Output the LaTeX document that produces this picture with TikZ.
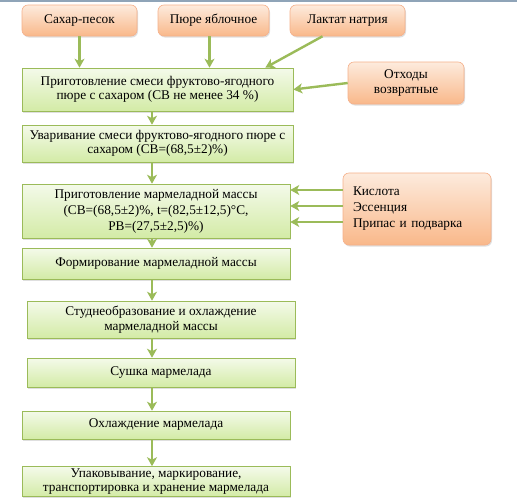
\documentclass[tikz,border=0pt]{standalone}
\usepackage{fontspec}
\setmainfont{Liberation Serif}
\usepackage{xcolor}
\usepackage{tikz}
\usetikzlibrary{arrows.meta,positioning,shadows,calc}
\definecolor{pgreen}{HTML}{9BBB59}
\definecolor{pgrtop}{HTML}{F4FAEA}
\definecolor{pgrbot}{HTML}{D3EBA6}
\definecolor{porange}{HTML}{F5B08A}
\definecolor{portop}{HTML}{FDEBDD}
\definecolor{porbot}{HTML}{F9B88A}
\definecolor{pframe}{HTML}{8FA4B8}

\begin{document}
\begin{tikzpicture}[
    x=1pt,y=-1pt,
    font=\fontsize{13.3}{14.5}\selectfont,
    gbx/.style={draw=pgreen,top color=pgrtop,bottom color=pgrbot,
                align=center,inner sep=2pt,line width=0.6pt,
                drop shadow={opacity=0.25,shadow xshift=1pt,shadow yshift=-1.5pt}},
    obx/.style={draw=porange,top color=portop,bottom color=porbot,
                rounded corners=6pt,align=center,line width=0.6pt,
                drop shadow={opacity=0.25,shadow xshift=1pt,shadow yshift=-1.5pt}},
    arr/.style={-{Stealth[length=9pt,width=10pt,inset=2.5pt]},line width=2.4pt,pgreen}
  ]
    \useasboundingbox (0,0) rectangle (517,501);
    \fill[white] (0,0) rectangle (517,501);
    \draw[pframe,line width=1.6pt] (0,0.8) -- (517,0.8);

    % Raw materials
    \node[obx,minimum width=115,minimum height=31] (sug)  at (79.5,20.5)  {Сахар-песок};
    \node[obx,minimum width=111,minimum height=31] (pur)  at (213.5,20.5) {Пюре яблочное};
    \node[obx,minimum width=115,minimum height=31] (lac)  at (347.5,20.5) {Лактат натрия};
    \node[obx,minimum width=116,minimum height=42] (wst)  at (406,83)     {Отходы\\возвратные};
    \node[obx,minimum height=72,text width=128,inner xsep=10,align=left,
          font=\fontsize{13.3}{16}\selectfont]
      (add) at (417,209) {Кислота\\Эссенция\\Припас и подварка};

    % Process steps
    \node[gbx,minimum width=271,minimum height=43] (mix)  at (157.5,89.5)
      {Приготовление смеси фруктово-ягодного\\пюре с сахаром (СВ не менее 34 \%)};
    \node[gbx,minimum width=271,minimum height=37] (boil) at (157.5,143.5)
      {Уваривание смеси фруктово-ягодного пюре с\\сахаром (СВ=(68,5±2)\%)};
    \node[gbx,minimum width=268,minimum height=54,font=\fontsize{13.3}{16}\selectfont]
      (mass) at (156,211)
      {Приготовление мармеладной массы\\(СВ=(68,5±2)\%, t=(82,5±12,5)°С,\\РВ=(27,5±2,5)\%)};
    \node[gbx,minimum width=268,minimum height=31] (form) at (156,263.5)
      {Формирование мармеладной массы};
    \node[gbx,minimum width=268,minimum height=37] (gel)  at (161,319.5)
      {Студнеобразование и охлаждение\\мармеладной массы};
    \node[gbx,minimum width=268,minimum height=29] (dry)  at (161,372.5)
      {Сушка мармелада};
    \node[gbx,minimum width=268,minimum height=28] (cool) at (156,425)
      {Охлаждение мармелада};
    \node[gbx,minimum width=268,minimum height=29] (pack) at (156,481.5)
      {Упаковывание, маркирование,\\транспортировка и хранение мармелада};

    \coordinate (spine) at (152,0);

    % Arrows
    \draw[arr] (sug.south) -- (sug.south |- mix.north);
    \draw[arr] ([xshift=-4pt]pur.south) -- ([xshift=-4pt]pur.south |- mix.north);
    \draw[arr] ([xshift=-25pt]lac.south) -- ([xshift=-28pt]mix.north east);
    \draw[arr] (wst.west) -- (mix.east);
    \foreach \dy in {19,3,-13}
      \draw[arr] ([yshift=\dy pt]add.west) -- ([yshift=\dy pt]add.west -| mass.east);

    % Main line
    \foreach \a/\b in {mix/boil,boil/mass,mass/form,form/gel,gel/dry,dry/cool,cool/pack}
      \draw[arr] (\a.south -| spine) -- (\b.north -| spine);

  \end{tikzpicture}
\end{document}
